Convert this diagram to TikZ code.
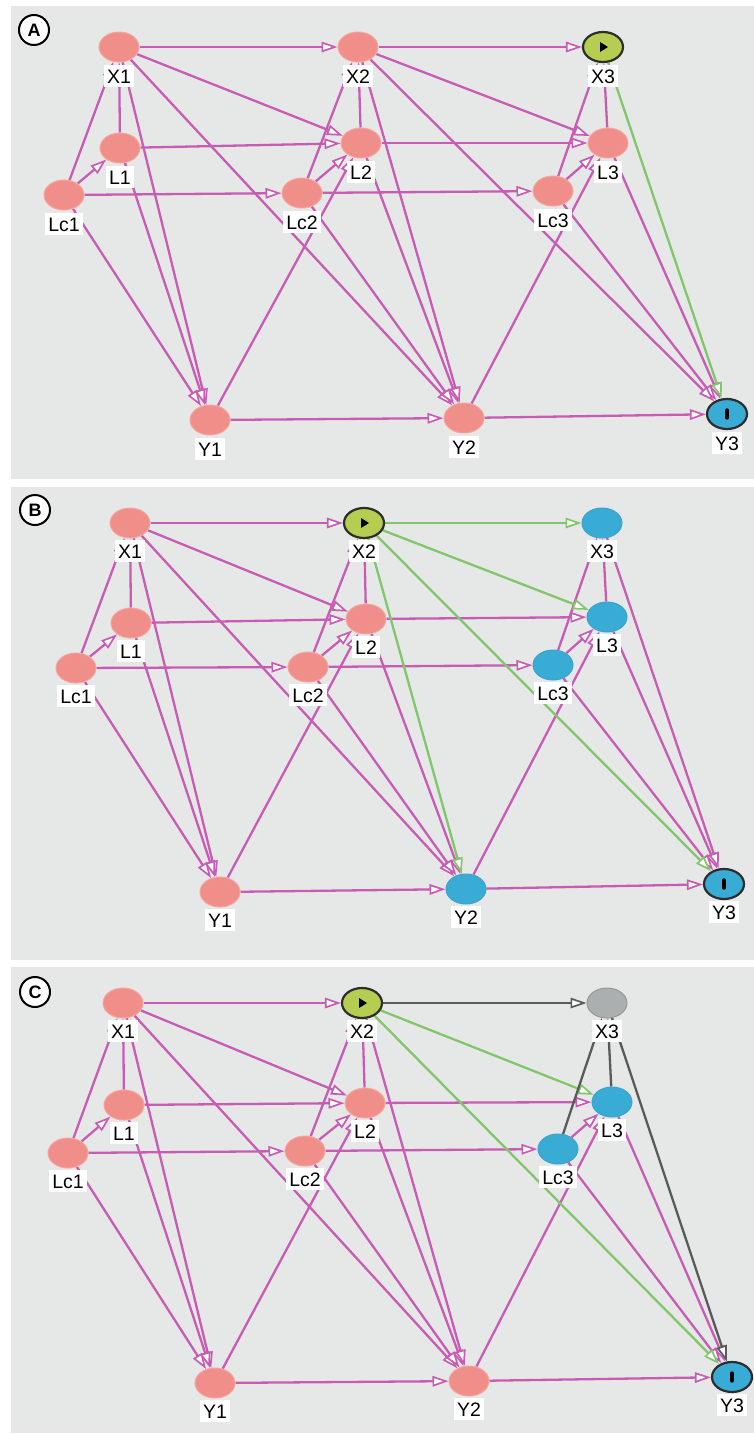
\documentclass[tikz,border=0pt]{standalone}
\usepackage{fontspec}
\setmainfont{Liberation Sans}
\usetikzlibrary{shapes.geometric,arrows.meta}
\definecolor{panelbg}{RGB}{230,232,231}
\definecolor{pinkline}{RGB}{200,92,180}
\definecolor{greenline}{RGB}{130,198,108}
\definecolor{greyline}{RGB}{90,90,90}
\definecolor{pinknode}{RGB}{240,142,137}
\definecolor{pinkrim}{RGB}{246,165,160}
\definecolor{bluenode}{RGB}{56,172,212}
\definecolor{bluerim}{RGB}{62,162,205}
\definecolor{greennode}{RGB}{181,206,82}
\definecolor{greynode}{RGB}{172,175,175}
\definecolor{greyrim}{RGB}{150,152,152}
\definecolor{darkrim}{RGB}{45,45,45}
\pgfdeclarelayer{bglayer}
\pgfdeclarelayer{edgelayer}
\pgfsetlayers{bglayer,edgelayer,main}
\tikzset{
  vtx/.style={ellipse, minimum width=40pt, minimum height=30pt, inner sep=0pt, line width=1pt},
  pinkv/.style={vtx, fill=pinknode, draw=pinkrim},
  bluev/.style={vtx, fill=bluenode, draw=bluerim},
  greyv/.style={vtx, fill=greynode, draw=greyrim},
  expov/.style={vtx, fill=greennode, draw=darkrim, line width=2.2pt,
    path picture={\fill[black] ([xshift=-3pt,yshift=5pt]path picture bounding box.center) -- ++(8pt,-5pt) -- ++(-8pt,-5pt) -- cycle;}},
  outv/.style={vtx, fill=bluenode, draw=darkrim, line width=2.2pt,
    path picture={\draw[black, line width=3.4pt, line cap=round] ([yshift=-4pt]path picture bounding box.center) -- ++(0pt,8pt);}},
  lbl/.style={fill=white, font=\fontsize{19.5}{19.5}\selectfont, text height=14pt, text depth=0pt, inner xsep=3.5pt, inner ysep=3.6pt},
  tagc/.style={circle, draw=black, fill=white, line width=2pt, minimum size=30pt, inner sep=0pt, font=\fontsize{18}{18}\selectfont\bfseries},
  pe/.style={draw=pinkline, line width=2.3pt, -{Triangle[length=16pt,width=10.5pt,fill=white,line width=1.7pt]}},
  ge/.style={draw=greenline, line width=2.3pt, -{Triangle[length=16pt,width=10.5pt,fill=white,line width=1.7pt]}},
  ke/.style={draw=greyline, line width=2.3pt, -{Triangle[length=16pt,width=10.5pt,fill=white,line width=1.7pt]}},
}
\begin{document}
\begin{tikzpicture}[x=1pt,y=-1pt]
\begin{pgfonlayer}{bglayer}
\fill[white] (0,0) rectangle (754,1435);
\fill[panelbg] (11,6) rectangle (754,479);
\fill[panelbg] (11,487) rectangle (754,960);
\fill[panelbg] (11,967) rectangle (754,1433);
\end{pgfonlayer}
\useasboundingbox (0,0) rectangle (754,1435);

% Panel A nodes
\foreach \n/\x/\y/\s in {X1/119/47/pinkv, X2/358/47/pinkv, X3/603/47/expov,
  L1/120/148/pinkv, L2/361/143/pinkv, L3/608/143/pinkv,
  Lc1/64/195/pinkv, Lc2/302/193/pinkv, Lc3/553/191/pinkv,
  Y1/210/420/pinkv, Y2/464/418/pinkv, Y3/727/414/outv}
  {\node[\s] (A\n) at (\x,\y) {};
   \node[lbl] (lA\n) at (\x,\y+29) {\n};}
% Panel B nodes
\foreach \n/\x/\y/\s in {X1/130/523/pinkv, X2/364/523/expov, X3/602/523/bluev,
  L1/131/623/pinkv, L2/366/619/pinkv, L3/607/617/bluev,
  Lc1/76/668/pinkv, Lc2/308/667/pinkv, Lc3/553/665/bluev,
  Y1/220/892/pinkv, Y2/466/889/bluev, Y3/724/884/outv}
  {\node[\s] (B\n) at (\x,\y) {};
   \node[lbl] (lB\n) at (\x,\y+28) {\n};}
% Panel C nodes
\foreach \n/\x/\y/\s in {X1/123/1003/pinkv, X2/362/1003/expov, X3/607/1003/greyv,
  L1/124/1105/pinkv, L2/365/1103/pinkv, L3/612/1102/bluev,
  Lc1/68/1153/pinkv, Lc2/305/1151/pinkv, Lc3/558/1149/bluev,
  Y1/215/1383/pinkv, Y2/469/1381/pinkv, Y3/732/1377/outv}
  {\node[\s] (C\n) at (\x,\y) {};
   \node[lbl] (lC\n) at (\x,\y+28) {\n};}

\node[tagc] (tagA) at (34,30) {A};
\node[tagc] (tagB) at (35,510) {B};
\node[tagc] (tagC) at (35,992) {C};

\begin{pgfonlayer}{edgelayer}
\foreach \P in {A,B,C}{
  \foreach \a/\b in {X1/X2, X1/L2, X1/Y1, X1/Y2, L1/X1, L1/L2, L1/Y1,
    Lc1/X1, Lc1/L1, Lc1/Lc2, Lc1/Y1, Y1/Y2, Y1/L2,
    L2/X2, L2/L3, L2/Y2, Lc2/X2, Lc2/L2, Lc2/Lc3, Lc2/Y2, Y2/Y3, Y2/L3,
    L3/Y3, Lc3/L3, Lc3/Y3}
    {\draw[pe] (\P\a) -- (\P\b);}
}
\foreach \a/\b/\s in {X2/X3/pe, X2/L3/pe, X2/Y2/pe, X2/Y3/pe, L3/X3/pe, Lc3/X3/pe, X3/Y3/ge}
  {\draw[\s] (A\a) -- (A\b);}
\foreach \a/\b/\s in {L3/X3/pe, Lc3/X3/pe, X3/Y3/pe, X2/X3/ge, X2/L3/ge, X2/Y2/ge, X2/Y3/ge}
  {\draw[\s] (B\a) -- (B\b);}
\foreach \a/\b/\s in {X2/Y2/pe, X2/L3/ge, X2/Y3/ge, X2/X3/ke, L3/X3/ke, Lc3/X3/ke, X3/Y3/ke}
  {\draw[\s] (C\a) -- (C\b);}
\end{pgfonlayer}
\end{tikzpicture}
\end{document}
